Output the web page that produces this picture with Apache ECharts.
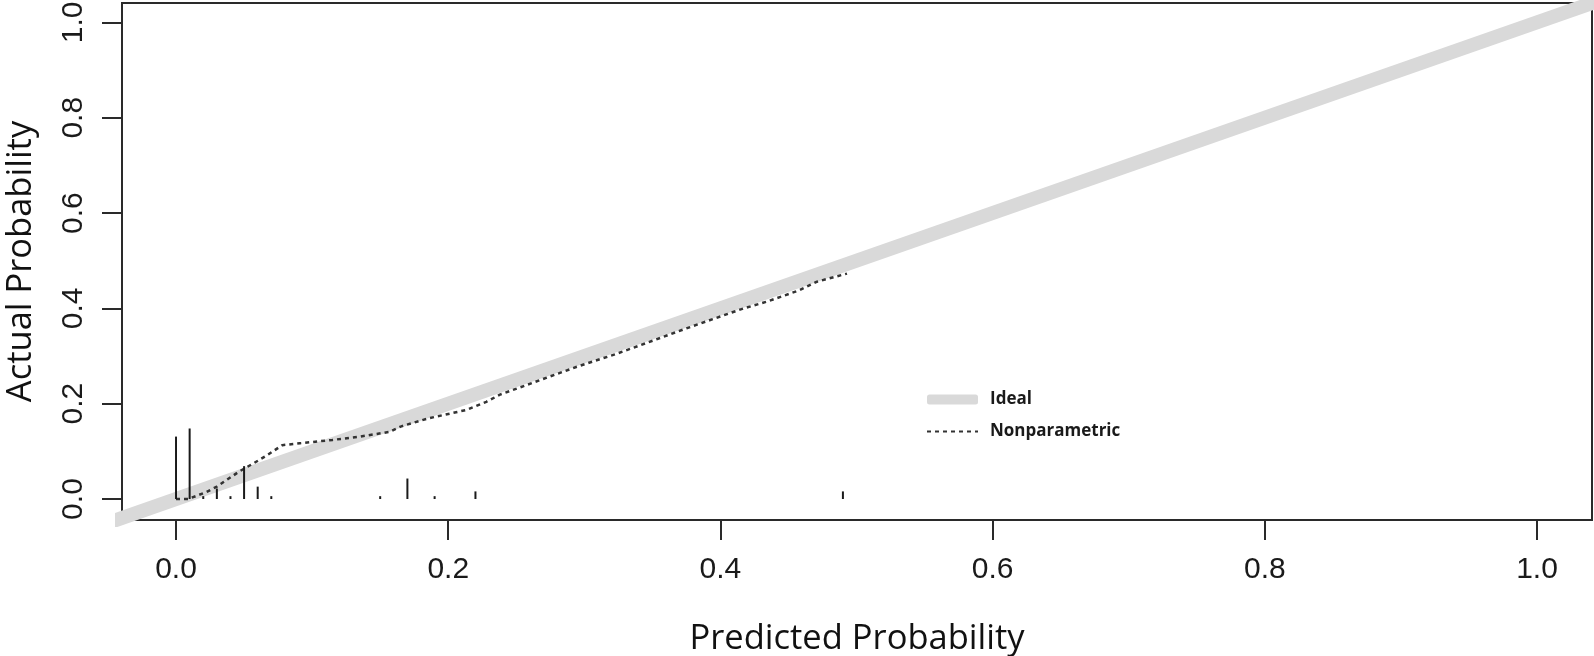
<!DOCTYPE html>
<html>
<head>
<meta charset="utf-8">
<script src="https://cdn.jsdelivr.net/npm/echarts@6/dist/echarts.min.js"></script>
<style>
  html, body { margin: 0; padding: 0; background: #fff; }
  #chart { width: 1594px; height: 656px; }
</style>
</head>
<body>
<div id="chart"></div>
<script>
// ticks shown on both axes
const tickValues = [0, 0.2, 0.4, 0.6, 0.8, 1.0];

// ideal (diagonal) reference line
const idealX = [-0.05, 1.05];
const idealY = [-0.05, 1.05];

// nonparametric calibration curve
const predX = [0, 0.009, 0.0225, 0.03, 0.046, 0.057, 0.067, 0.078, 0.091, 0.115, 0.135, 0.157, 0.165, 0.185,
  0.2135, 0.228, 0.238, 0.267, 0.294, 0.324, 0.351, 0.375, 0.392, 0.417, 0.434, 0.458, 0.471, 0.493];
const actY = [0, 0, 0.015, 0.026, 0.057, 0.075, 0.092, 0.113, 0.117, 0.124, 0.131, 0.141, 0.152, 0.169,
  0.187, 0.204, 0.219, 0.249, 0.277, 0.305, 0.333, 0.358, 0.375, 0.400, 0.414, 0.438, 0.456, 0.473];

// distribution spikes along the bottom
const spikeX = [0.00, 0.01, 0.02, 0.03, 0.04, 0.05, 0.06, 0.07, 0.15, 0.17, 0.19, 0.22, 0.49];
const spikeH = [0.131, 0.148, 0.006, 0.022, 0.006, 0.069, 0.026, 0.006, 0.006, 0.043, 0.006, 0.016, 0.016];

const zip = (a, b) => a.map((v, i) => [v, b[i]]);

const labelFont = { fontFamily: 'Liberation Sans', fontSize: 30, color: '#1a1a1a' };
const nameFont = { fontFamily: 'Open Sans', fontSize: 34.5, color: '#111' };
const axisLineStyle = { color: '#2a2a2a', width: 2 };

const option = {
  animation: false,
  backgroundColor: '#fff',
  grid: {
    left: 122, right: 2, top: 3, bottom: 136,
    outerBoundsMode: 'none',
    containLabel: false,
    show: true, borderColor: '#2a2a2a', borderWidth: 2
  },
  legend: {
    orient: 'vertical',
    left: 921,
    top: 386,
    itemWidth: 51,
    itemHeight: 10,
    itemGap: 15,
    textStyle: { fontFamily: 'Open Sans', fontWeight: 'bold', fontSize: 17, color: '#1a1a1a', padding: [0, 0, 0, 7] },
    data: [
      { name: 'Ideal', icon: 'roundRect', itemStyle: { color: '#d9d9d9' } },
      { name: 'Nonparametric', itemStyle: { opacity: 0 } }
    ]
  },
  xAxis: {
    type: 'value',
    position: 'bottom',
    min: -0.0397,
    max: 1.0404,
    name: 'Predicted Probability',
    nameLocation: 'middle',
    nameGap: 102,
    nameTextStyle: nameFont,
    splitLine: { show: false },
    axisLine: { show: true, onZero: false, lineStyle: axisLineStyle },
    axisTick: { show: true, inside: false, length: 20, customValues: tickValues, lineStyle: axisLineStyle },
    axisLabel: Object.assign({ margin: 35, customValues: tickValues, formatter: v => v.toFixed(1) }, labelFont)
  },
  yAxis: {
    type: 'value',
    position: 'left',
    min: -0.044,
    max: 1.0407,
    name: 'Actual Probability',
    nameLocation: 'middle',
    nameGap: 83,
    nameTextStyle: nameFont,
    splitLine: { show: false },
    axisLine: { show: true, onZero: false, lineStyle: axisLineStyle },
    axisTick: { show: true, inside: false, length: 20, customValues: tickValues, lineStyle: axisLineStyle },
    axisLabel: Object.assign({ margin: 33, rotate: 90, customValues: tickValues, formatter: v => v.toFixed(1) }, labelFont)
  },
  series: [
    {
      name: 'Ideal',
      type: 'line',
      data: zip(idealX, idealY),
      showSymbol: false,
      symbol: 'none',
      lineStyle: { color: '#d9d9d9', width: 14 },
      itemStyle: { color: '#d9d9d9' },
      z: 1
    },
    {
      name: 'Nonparametric',
      type: 'line',
      data: zip(predX, actY),
      showSymbol: false,
      symbol: 'none',
      lineStyle: { color: '#333', width: 2.5, type: [4, 4] },
      itemStyle: { color: '#333' },
      z: 3
    },
    {
      name: 'spikes',
      type: 'custom',
      data: zip(spikeX, spikeH),
      z: 4,
      renderItem: function (params, api) {
        const p0 = api.coord([api.value(0), 0]);
        const p1 = api.coord([api.value(0), api.value(1)]);
        return {
          type: 'line',
          shape: { x1: p0[0], y1: p0[1], x2: p1[0], y2: p1[1] },
          style: { stroke: '#1a1a1a', lineWidth: 2 }
        };
      }
    }
  ]
};

const chart = echarts.init(document.getElementById('chart'));
chart.setOption(option);
</script>
</body>
</html>
